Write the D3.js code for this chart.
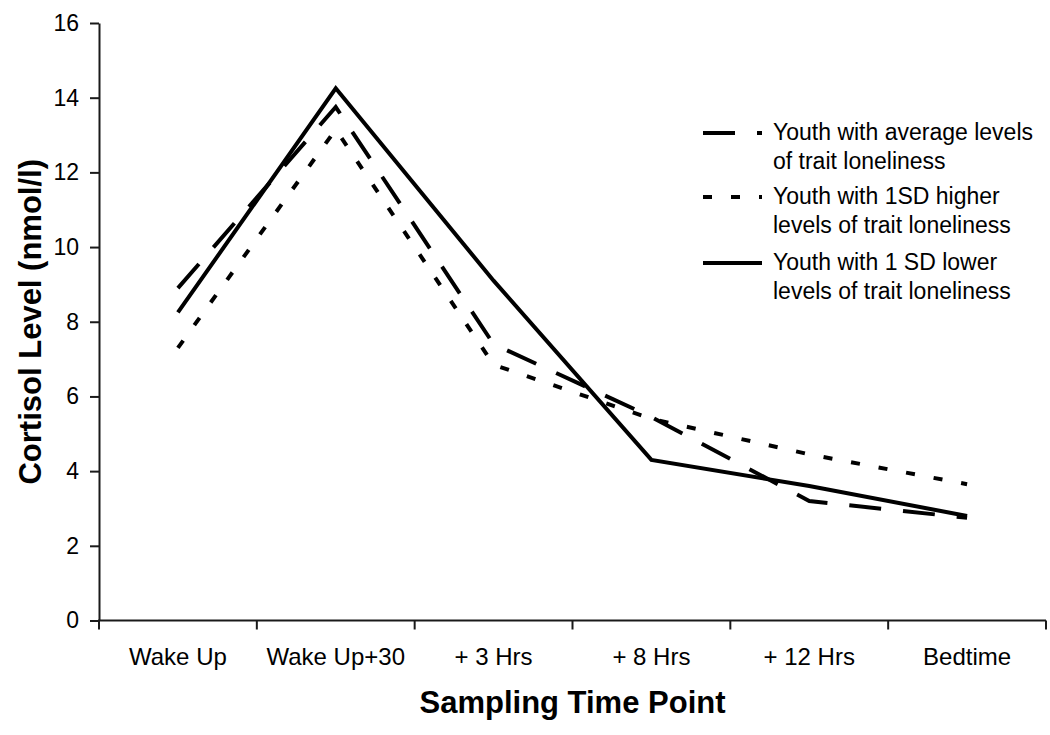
<!DOCTYPE html>
<html>
<head>
<meta charset="utf-8">
<script src="https://cdn.jsdelivr.net/npm/d3@7"></script>
<style>
  body { margin: 0; background: #fff; }
  svg { display: block; font-family: Arial, "Liberation Sans", sans-serif; }
</style>
</head>
<body>
<svg id="chart" width="1050" height="735"></svg>
<script>
// ---- data ----
const categories = ["Wake Up", "Wake Up+30", "+ 3 Hrs", "+ 8 Hrs", "+ 12 Hrs", "Bedtime"];
const averageLoneliness = [8.9, 13.75, 7.4, 5.45, 3.2, 2.75];
const higherLoneliness  = [7.3, 13.15, 6.85, 5.4, 4.45, 3.65];
const lowerLoneliness   = [8.25, 14.25, 9.1, 4.3, 3.6, 2.8];
const yTicks = [0, 2, 4, 6, 8, 10, 12, 14, 16];
const seriesNames = [
  ["Youth with average levels", "of trait loneliness"],
  ["Youth with 1SD higher", "levels of trait loneliness"],
  ["Youth with 1 SD lower", "levels of trait loneliness"]
];
const yTitle = "Cortisol Level (nmol/l)";
const xTitle = "Sampling Time Point";

const series = [
  { name: seriesNames[0], values: averageLoneliness, dash: "32,22" },
  { name: seriesNames[1], values: higherLoneliness,  dash: "9,19" },
  { name: seriesNames[2], values: lowerLoneliness,   dash: null }
];

const svg = d3.select("#chart");
const plotLeft = 99, plotRight = 1046, plotTop = 23, plotBottom = 620.5;

const x = d3.scaleBand().domain(categories).range([plotLeft, plotRight]).padding(0);
const y = d3.scaleLinear().domain([0, 16]).range([plotBottom, plotTop]);

const axisColor = "#1a1a1a";

// y axis
const yAxis = svg.append("g")
  .attr("transform", `translate(${plotLeft},0)`)
  .call(d3.axisLeft(y).tickValues(yTicks).tickSize(9).tickPadding(11).tickSizeOuter(0));
yAxis.select(".domain").attr("stroke", axisColor).attr("stroke-width", 2);
yAxis.selectAll(".tick line").attr("stroke", axisColor).attr("stroke-width", 2);
yAxis.selectAll(".tick text").attr("font-size", 23).attr("fill", "#000")
  .attr("font-family", "Arial, 'Liberation Sans', sans-serif");

// x axis: line, boundary ticks, centered labels
const xg = svg.append("g");
xg.append("line")
  .attr("x1", plotLeft - 1).attr("x2", plotRight)
  .attr("y1", y(0)).attr("y2", y(0))
  .attr("stroke", axisColor).attr("stroke-width", 2);
const boundaries = d3.range(categories.length + 1).map(i => x.range()[0] + i * x.step());
xg.selectAll("line.tick").data(boundaries).join("line")
  .attr("class", "tick")
  .attr("x1", d => d).attr("x2", d => d)
  .attr("y1", y(0)).attr("y2", y(0) + 9)
  .attr("stroke", axisColor).attr("stroke-width", 2);
xg.selectAll("text").data(categories).join("text")
  .attr("x", d => x(d) + x.bandwidth() / 2)
  .attr("y", 665)
  .attr("text-anchor", "middle")
  .attr("font-size", 24)
  .attr("fill", "#000")
  .text(d => d);

// axis titles
svg.append("text")
  .attr("x", (plotLeft + plotRight) / 2)
  .attr("y", 713)
  .attr("text-anchor", "middle")
  .attr("font-size", 31)
  .attr("font-weight", "bold")
  .text(xTitle);
svg.append("text")
  .attr("transform", `translate(41,${(plotTop + plotBottom) / 2}) rotate(-90)`)
  .attr("text-anchor", "middle")
  .attr("font-size", 31)
  .attr("font-weight", "bold")
  .text(yTitle);

// lines
const line = d3.line()
  .x((d, i) => x(categories[i]) + x.bandwidth() / 2)
  .y(d => y(d));
svg.append("g").selectAll("path").data(series).join("path")
  .attr("d", d => line(d.values))
  .attr("fill", "none")
  .attr("stroke", "#000")
  .attr("stroke-width", 4)
  .attr("stroke-linejoin", "miter")
  .attr("stroke-dasharray", d => d.dash);

// legend
const legendBaselines = [140, 204, 270];
const lg = svg.append("g");
series.forEach((s, i) => {
  const b = legendBaselines[i];
  lg.append("line")
    .attr("x1", 703).attr("x2", 762)
    .attr("y1", b - 7).attr("y2", b - 7)
    .attr("stroke", "#000").attr("stroke-width", 4)
    .attr("stroke-dasharray", s.dash);
  s.name.forEach((t, j) => {
    lg.append("text")
      .attr("x", 773)
      .attr("y", b + j * 29)
      .attr("font-size", 23)
      .attr("fill", "#000")
      .text(t);
  });
});
</script>
</body>
</html>
